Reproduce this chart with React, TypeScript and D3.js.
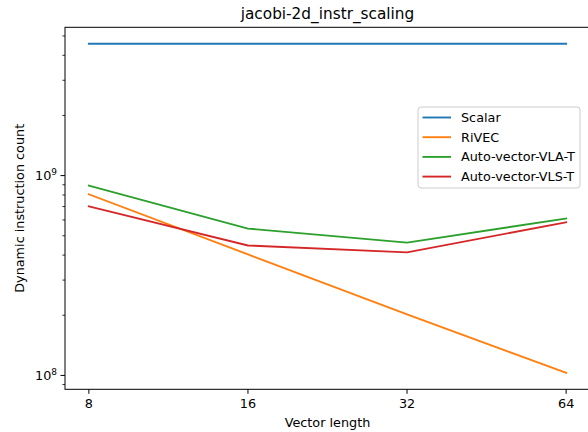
import * as d3 from "d3";
import { useEffect, useRef } from "react";

const vectorLengths = [8, 16, 32, 64];
const scalar = [4.57e9, 4.57e9, 4.57e9, 4.57e9];
const rivec = [8.06e8, 4.03e8, 2.02e8, 1.03e8];
const vlaT = [8.91e8, 5.43e8, 4.62e8, 6.1e8];
const vlsT = [7.02e8, 4.47e8, 4.13e8, 5.84e8];

const seriesNames = ["Scalar", "RiVEC", "Auto-vector-VLA-T", "Auto-vector-VLS-T"];
const seriesColors = ["#1f77b4", "#ff7f0e", "#2ca02c", "#d62728"];

const App = () => {
  const ref = useRef<SVGSVGElement>(null);

  useEffect(() => {
    const svg = d3.select(ref.current);
    svg.selectAll("*").remove();

    const width = 588;
    const height = 432;
    const left = 65;
    const right = 590;
    const top = 27.3;
    const bottom = 389.3;
    const font = "DejaVu Sans, sans-serif";
    const fs = 12.8;

    const allSeries = [scalar, rivec, vlaT, vlsT];

    // matplotlib-like 5% margins in log space
    const xl = Math.log2(8), xh = Math.log2(64);
    const xm = (xh - xl) * 0.05;
    const x = d3
      .scaleLog()
      .base(2)
      .domain([2 ** (xl - xm), 2 ** (xh + xm)])
      .range([left, right]);

    const flat = allSeries.flat();
    const lo = Math.log10(d3.min(flat)!);
    const hi = Math.log10(d3.max(flat)!);
    const ym = (hi - lo) * 0.05;
    const y = d3
      .scaleLog()
      .domain([10 ** (lo - ym), 10 ** (hi + ym)])
      .range([bottom, top]);

    svg.attr("width", width).attr("height", height);

    svg.append("rect").attr("width", width).attr("height", height).attr("fill", "#fff");

    // lines
    const line = d3
      .line<number>()
      .x((_, i) => x(vectorLengths[i]))
      .y((d) => y(d));

    allSeries.forEach((s, i) => {
      svg
        .append("path")
        .attr("d", line(s))
        .attr("fill", "none")
        .attr("stroke", seriesColors[i])
        .attr("stroke-width", 1.9)
        .attr("stroke-linecap", "square");
    });

    // spines
    svg
      .append("rect")
      .attr("x", left)
      .attr("y", top)
      .attr("width", right - left)
      .attr("height", bottom - top)
      .attr("fill", "none")
      .attr("stroke", "#000")
      .attr("stroke-width", 1);

    // x ticks
    vectorLengths.forEach((v) => {
      svg
        .append("line")
        .attr("x1", x(v))
        .attr("x2", x(v))
        .attr("y1", bottom)
        .attr("y2", bottom + 4.5)
        .attr("stroke", "#000");
      svg
        .append("text")
        .attr("x", x(v))
        .attr("y", bottom + 19)
        .attr("text-anchor", "middle")
        .attr("font-family", font)
        .attr("font-size", fs)
        .text(v);
    });

    // y ticks: major decades and minor ticks
    const [d0, d1] = y.domain();
    for (let e = Math.floor(Math.log10(d0)); e <= Math.ceil(Math.log10(d1)); e++) {
      for (let m = 1; m < 10; m++) {
        const v = m * 10 ** e;
        if (v < d0 || v > d1) continue;
        const major = m === 1;
        svg
          .append("line")
          .attr("x1", left)
          .attr("x2", left - (major ? 4.5 : 2.6))
          .attr("y1", y(v))
          .attr("y2", y(v))
          .attr("stroke", "#000")
          .attr("stroke-width", major ? 1 : 0.8);
        if (major) {
          const t = svg
            .append("text")
            .attr("x", left - 8)
            .attr("y", y(v) + 4.5)
            .attr("text-anchor", "end")
            .attr("font-family", font)
            .attr("font-size", fs);
          t.append("tspan").text("10");
          t.append("tspan")
            .attr("dy", -5)
            .attr("font-size", fs * 0.7)
            .text(e);
        }
      }
    }

    // title and axis labels
    svg
      .append("text")
      .attr("x", (left + right) / 2)
      .attr("y", 19)
      .attr("text-anchor", "middle")
      .attr("font-family", font)
      .attr("font-size", 15.3)
      .text("jacobi-2d_instr_scaling");

    svg
      .append("text")
      .attr("x", (left + right) / 2)
      .attr("y", 427)
      .attr("text-anchor", "middle")
      .attr("font-family", font)
      .attr("font-size", fs)
      .text("Vector length");

    svg
      .append("text")
      .attr("transform", `translate(24, ${(top + bottom) / 2}) rotate(-90)`)
      .attr("text-anchor", "middle")
      .attr("font-family", font)
      .attr("font-size", fs)
      .text("Dynamic instruction count");

    // legend
    const lg = svg.append("g").attr("transform", "translate(418, 107)");
    lg.append("rect")
      .attr("width", 162)
      .attr("height", 81)
      .attr("rx", 3)
      .attr("fill", "#fff")
      .attr("fill-opacity", 0.8)
      .attr("stroke", "#ccc");
    seriesNames.forEach((name, i) => {
      const cy = 10.5 + i * 19.7;
      lg.append("line")
        .attr("x1", 4.5)
        .attr("x2", 33)
        .attr("y1", cy)
        .attr("y2", cy)
        .attr("stroke", seriesColors[i])
        .attr("stroke-width", 1.9);
      lg.append("text")
        .attr("x", 43)
        .attr("y", cy + 4.5)
        .attr("font-family", font)
        .attr("font-size", fs)
        .text(name);
    });
  }, []);

  return (
    <svg
      ref={ref}
      style={{ position: "absolute", left: 0, top: 0, display: "block" }}
    ></svg>
  );
};

export default App;
